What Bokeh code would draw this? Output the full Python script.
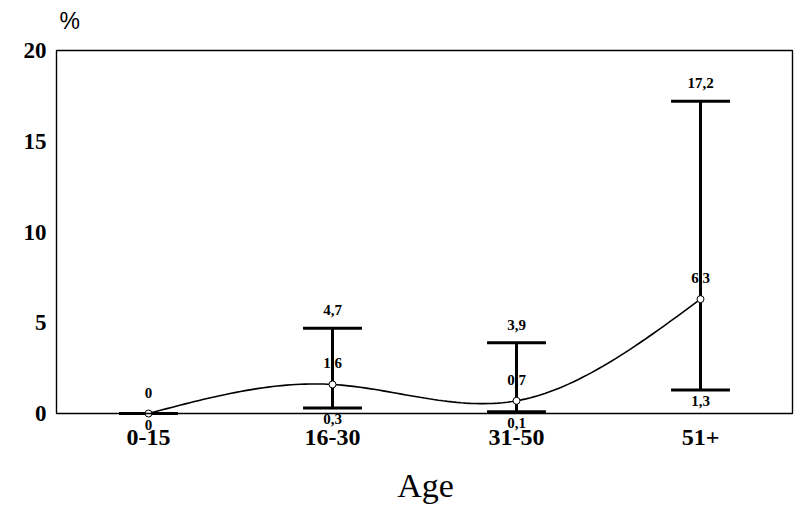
import numpy as np
from bokeh.plotting import figure
from bokeh.models import (ColumnDataSource, LabelSet, Label, FixedTicker, Range1d,
                          BoxAnnotation)
from bokeh.embed import file_html
from bokeh.resources import INLINE

# ---- data ----
categories = ["0-15", "16-30", "31-50", "51+"]
means = [0.0, 1.6, 0.7, 6.3]
lower = [0.0, 0.3, 0.1, 1.3]
upper = [0.0, 4.7, 3.9, 17.2]
y_ticks = [0, 5, 10, 15, 20]


def fmt(v):
    return ("%g" % v).replace(".", ",")


xs = list(range(len(categories)))

# ---- natural cubic spline through the means (smoothed line rendering) ----
n = len(xs)
A = np.zeros((n, n))
b = np.zeros(n)
A[0, 0] = 1.0
A[-1, -1] = 1.0
for i in range(1, n - 1):
    A[i, i - 1] = 1.0
    A[i, i] = 4.0
    A[i, i + 1] = 1.0
    b[i] = 6.0 * (means[i - 1] - 2 * means[i] + means[i + 1])
M = np.linalg.solve(A, b)
cx, cy = [], []
for i in range(n - 1):
    for t in np.linspace(0, 1, 40, endpoint=(i == n - 2)):
        a0, a1 = 1 - t, t
        yv = (a0 * means[i] + a1 * means[i + 1]
              + ((a0 ** 3 - a0) * M[i] + (a1 ** 3 - a1) * M[i + 1]) / 6.0)
        cx.append(xs[i] + t)
        cy.append(yv)

# ---- layout (pixels) ----
W, H = 796, 507
FRAME_L, FRAME_B = 54, 452          # drawing frame (canvas px)
BOX_L, BOX_R, BOX_T, BOX_B = 56, 792, 50, 413   # visible plot box
x_lo_box, x_hi_box = xs[0] - 0.5, xs[-1] + 0.5
y_lo_box, y_hi_box = y_ticks[0], y_ticks[-1]
ppx = (BOX_R - BOX_L) / (x_hi_box - x_lo_box)
ppy = (BOX_B - BOX_T) / (y_hi_box - y_lo_box)
x_range = Range1d(x_lo_box - (BOX_L - FRAME_L) / ppx, x_hi_box + (W - BOX_R) / ppx)
y_range = Range1d(y_lo_box - (FRAME_B - BOX_B) / ppy, y_hi_box + BOX_T / ppy)

SERIF = "Liberation Serif"

p = figure(width=W, height=H, output_backend="svg", toolbar_location=None,
           x_range=x_range, y_range=y_range,
           min_border_left=FRAME_L, min_border_right=0, min_border_top=0,
           min_border_bottom=H - FRAME_B)
p.background_fill_color = "white"
p.border_fill_color = "white"
p.outline_line_color = None
p.grid.visible = False

# visible plot box
p.add_layout(BoxAnnotation(left=x_lo_box, right=x_hi_box, bottom=y_lo_box,
                           top=y_hi_box, fill_color=None, fill_alpha=0,
                           line_color="black", line_alpha=1.0,
                           line_width=1.4))

# axes
p.yaxis.ticker = FixedTicker(ticks=y_ticks)
p.xaxis.ticker = FixedTicker(ticks=[])
for ax in (p.xaxis, p.yaxis):
    ax.axis_line_color = None
    ax.major_tick_line_color = None
    ax.minor_tick_line_color = None
    ax.major_tick_out = 0
    ax.major_tick_in = 0
    ax.major_label_text_font = SERIF
    ax.major_label_text_font_style = "bold"
    ax.major_label_text_color = "black"
p.yaxis.major_label_text_font_size = "23px"
p.yaxis.major_label_standoff = 8
p.xaxis.major_label_standoff = 0
p.xaxis.axis_label = "Age"
p.xaxis.axis_label_text_font = SERIF
p.xaxis.axis_label_text_font_style = "normal"
p.xaxis.axis_label_text_font_size = "34px"
p.xaxis.axis_label_text_color = "black"
p.xaxis.axis_label_standoff = 14

# error bars
up_labels = [fmt(u) if u > m else "" for u, m in zip(upper, means)]
src = ColumnDataSource(dict(
    x=xs, mean=means, lower=lower, upper=upper,
    xl=[x - 0.16 for x in xs], xr=[x + 0.16 for x in xs],
    mean_t=[fmt(v) for v in means],
    low_t=[fmt(v) for v in lower],
    up_t=up_labels,
    cat=categories, zero=[0] * len(xs),
))
p.segment(x0="x", y0="lower", x1="x", y1="upper", source=src,
          line_color="black", line_width=3)
p.segment(x0="xl", y0="upper", x1="xr", y1="upper", source=src,
          line_color="black", line_width=3)
p.segment(x0="xl", y0="lower", x1="xr", y1="lower", source=src,
          line_color="black", line_width=3)

# smoothed line
p.line(cx, cy, line_color="black", line_width=1.6)
p.scatter(x="x", y="mean", source=src, marker="circle", size=7,
          fill_color="white", line_color="black", line_width=1)

# data labels
common = dict(source=src, text_font=SERIF, text_font_style="bold",
              text_font_size="15px", text_color="black", text_align="center",
              text_baseline="middle")
p.add_layout(LabelSet(x="x", y="upper", text="up_t", y_offset=18, **common))
p.add_layout(LabelSet(x="x", y="lower", text="low_t", y_offset=-11, **common))
p.add_layout(LabelSet(x="x", y="mean", text="mean_t", y_offset=21, **common))

# category labels under the box
p.add_layout(LabelSet(x="x", y="zero", text="cat", y_offset=-24, source=src,
                      text_font=SERIF, text_font_style="bold",
                      text_font_size="24px", text_color="black",
                      text_align="center", text_baseline="middle"))

# unit label
p.add_layout(Label(x=x_lo_box, y=y_hi_box, x_offset=3, y_offset=30, text="%",
                   text_font="Liberation Sans", text_font_size="23px",
                   text_baseline="middle", text_align="left",
                   text_color="black"))

open("out.html", "w").write(file_html(p, INLINE))
